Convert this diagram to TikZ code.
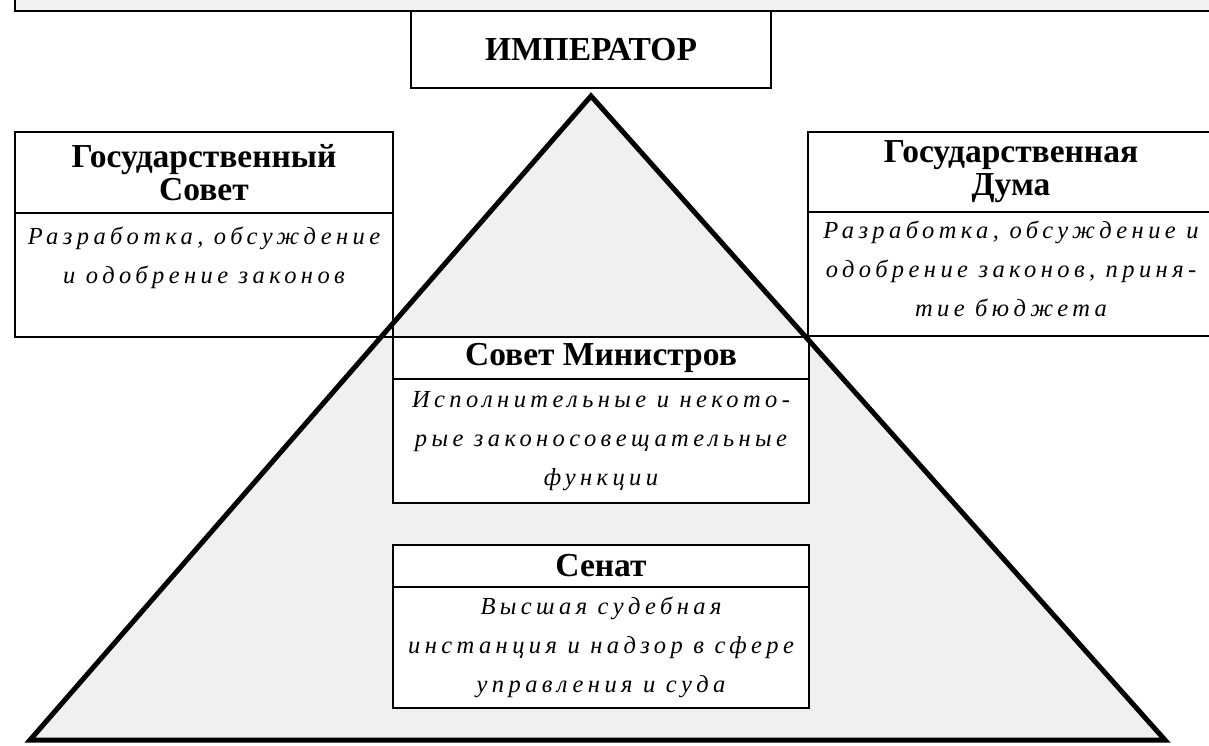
\documentclass[tikz,border=0pt]{standalone}
\usepackage{fontspec}
\setmainfont{Liberation Serif}
\newfontfamily\descfont{Liberation Serif}[LetterSpace=18]
\usetikzlibrary{positioning}

\begin{document}
\begin{tikzpicture}[x=1pt,y=-1pt,
	head/.style={draw, line width=1.6pt, fill=white, align=center, inner sep=0pt, outer sep=0pt,
		font=\fontsize{33.5}{33}\selectfont\bfseries},
	body/.style={draw, line width=1.6pt, fill=white, align=center, inner sep=0pt, outer sep=0pt,
		font=\descfont\fontsize{24.5}{39}\selectfont\itshape}]
		\useasboundingbox (0,0) rectangle (1209,745);
		
		\coordinate (apex) at (591,96);
		\coordinate (bl) at (30,740);
		\coordinate (br) at (1165,740);
		\fill [black!6] (apex)--(bl)--(br)--cycle;
		
		\draw [line width=2pt, fill=black!5] (15,-20) rectangle (1225,11);
		\node [head, minimum width=360, minimum height=77, anchor=north west] (imp) at (411,11) {ИМПЕРАТОР};
		
		\node [head, minimum width=378, minimum height=81, anchor=north west] (gsh) at (15,132) {Государственный\\Совет};
		\node [body, minimum width=378, minimum height=124, below=0pt of gsh] (gsb) {Разработка, обсуждение\\и одобрение законов\\\mbox{}};
		
		\node [head, minimum width=406, minimum height=80, anchor=north west] (gdh) at (808,132) {Государственная\\Дума};
		\node [body, minimum width=406, minimum height=124, below=0pt of gdh] (gdb) {Разработка, обсуждение и\\одобрение законов, приня-\\тие бюджета\\[-28pt]\mbox{}};
		
		\node [head, minimum width=416, minimum height=42, anchor=north west] (smh) at (393,337) {Совет Министров};
		\node [body, minimum width=416, minimum height=124, below=0pt of smh] (smb) {Исполнительные и некото-\\рые законосовещательные\\функции};
		
		\node [head, minimum width=416, minimum height=42, anchor=north west] (snh) at (393,545) {Сенат};
		\node [body, minimum width=416, minimum height=121, below=0pt of snh] (snb) {Высшая судебная\\инстанция и надзор в сфере\\управления и суда};
		
		\draw [line width=5pt] (apex)--(bl)--(br)--cycle;
		
		\end{tikzpicture}
\end{document}
